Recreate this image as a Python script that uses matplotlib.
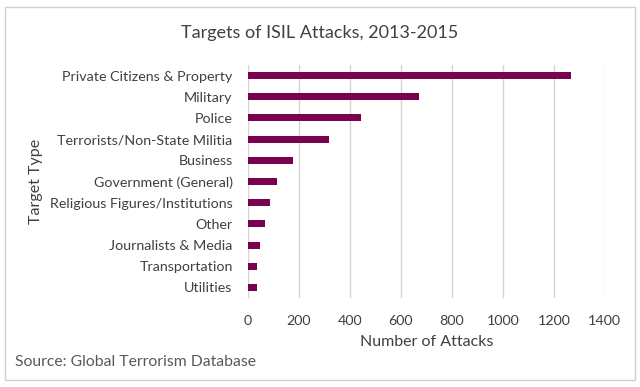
import matplotlib.pyplot as plt
from matplotlib.patches import Rectangle

# data
targets = ['Private Citizens & Property', 'Military', 'Police',
           'Terrorists/Non-State Militia', 'Business', 'Government (General)',
           'Religious Figures/Institutions', 'Other', 'Journalists & Media',
           'Transportation', 'Utilities']
attacks = [1266, 672, 444, 316, 175, 112, 86, 67, 47, 37, 34]
x_ticks = [0, 200, 400, 600, 800, 1000, 1200, 1400]

plt.rcParams['font.family'] = ['Lato', 'DejaVu Sans']
text_col = '#404040'

fig = plt.figure(figsize=(6.4, 3.87), dpi=100)
ax = fig.add_axes([0.3875, 0.23, 0.5575, 0.602])

pos = list(range(len(targets)))[::-1]
ax.barh(pos, attacks, height=0.33, color='#7a0050')

ax.set_xlim(0, 1400)
ax.set_ylim(-0.5, len(targets) - 0.5)
ax.set_xticks(x_ticks)
ax.set_yticks(pos)
ax.set_yticklabels(targets)
ax.tick_params(axis='both', length=0, labelsize=10.3, colors=text_col)
ax.tick_params(axis='x', pad=12)
ax.tick_params(axis='y', pad=11)
ax.xaxis.grid(True, color='#d4d4d4', linewidth=1)
ax.set_axisbelow(True)
for s in ax.spines.values():
    s.set_visible(False)

ax.set_xlabel('Number of Attacks', fontsize=11.5, color=text_col, labelpad=6)
ax.set_ylabel('Target Type', fontsize=11.5, color=text_col, labelpad=5)

fig.text(0.5, 0.915, 'Targets of ISIL Attacks, 2013-2015', ha='center', va='center',
         fontsize=13, color=text_col)
fig.text(0.024, 0.065, 'Source: Global Terrorism Database', ha='left', va='center',
         fontsize=11.3, color='#595959')

# light frame around the whole chart
fig.patches.append(Rectangle((0.008, 0.018), 0.984, 0.965, transform=fig.transFigure,
                             fill=False, edgecolor='#d0d0d0', linewidth=1))

fig.savefig('out.png', dpi=100)
